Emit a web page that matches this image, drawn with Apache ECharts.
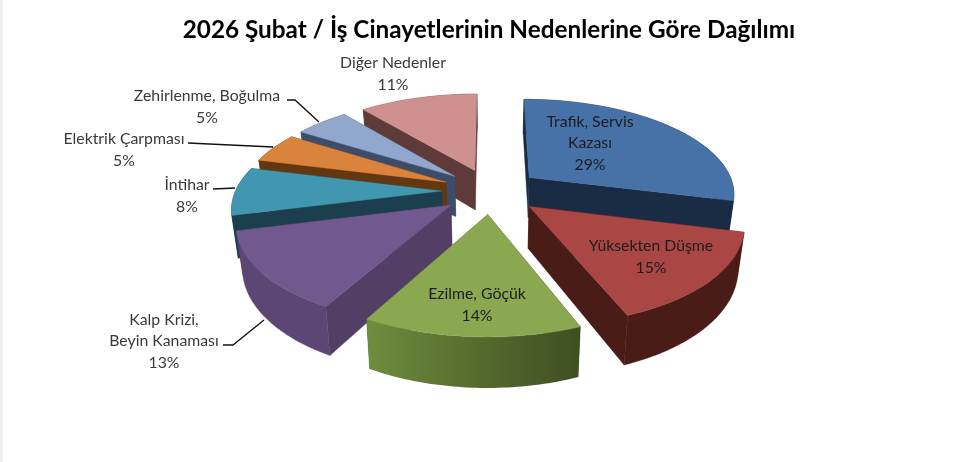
<!DOCTYPE html>
<html><head><meta charset="utf-8">
<style>html,body{margin:0;padding:0;background:#fff}#c{width:962px;height:462px}</style>
<script src="https://cdn.jsdelivr.net/npm/echarts@6/dist/echarts.min.js"></script>
</head><body><div id="c"></div>
<script>
const titleText = "2026 Şubat / İş Cinayetlerinin Nedenlerine Göre Dağılımı";
const categories = ["Trafik, Servis\nKazası","Yüksekten Düşme","Ezilme, Göçük","Kalp Krizi,\nBeyin Kanaması","İntihar","Elektrik Çarpması","Zehirlenme, Boğulma","Diğer Nedenler"];
const values = [29,15,14,13,8,5,5,11];

const topColors  = ["#4672a8","#aa4644","#8aa84f","#71588f","#4197af","#da833c","#91a7ce","#cf9190"];
const wallColors = ["#1a2c44","#4a1c18","#5a7232","#5c4674","#1b3f4d","#63370f","#3d4d68","#5e3a39"];
const radialColors=["#1a2c44","#4a1c18","#3f4f22","#533f66","#1b3f4d","#63370f","#3d4d68","#5e3a39"];
const paintOrder = [7,6,5,4,3,0,1,2];

// label centres and leader lines
const labelCentres = [[590,143],[651,257],[477,305],[164,341],[187,196],[124,150],[207,107],[393,74]];
const leaders = [null,null,null,[[223,345],[233,345],[264,320]],[[213,189],[235,188]],[[188,143],[273,147]],[[287,100],[295,100],[319,122]],null];

const cx=491, cy=191, bx=206, ay=94.5, persp=0.159, explode=0.24, depth=41, conv=0.975;
function project(u,v,low){
  const s=1/(1-persp*v);
  let x=cx+bx*u*s, y=cy+ay*v*s;
  if(low){ x=cx+(x-cx)*conv; y+=depth*s; }
  return [x,y];
}
const total=values.reduce((a,b)=>a+b,0);
const starts=[]; let acc=0;
values.forEach(v=>{starts.push(acc/total*Math.PI*2);acc+=v;});

function renderItem(params,api){
  const idx=api.value(0), val=api.value(1);
  const a0=starts[idx], a1=a0+val/total*Math.PI*2, m=(a0+a1)/2;
  const ox=explode*Math.sin(m), oy=-explode*Math.cos(m);
  const arc=[]; const n=48;
  for(let i=0;i<=n;i++){const t=a0+(a1-a0)*i/n;arc.push([ox+Math.sin(t),oy-Math.cos(t)]);}
  const P=(p,l)=>project(p[0],p[1],l);
  const apex=[ox,oy];
  const poly=(pts,fill)=>({type:'polygon',shape:{points:pts},style:{fill:fill,stroke:typeof fill==='string'?fill:'none',lineWidth:0.4}});
  const wallFill = idx===2 ? {type:'linear',x:0,y:0,x2:1,y2:0,colorStops:[{offset:0,color:'#6f8d3e'},{offset:0.4,color:'#5a7331'},{offset:1,color:'#3e4e22'}]} : wallColors[idx];
  const outer=arc.map(p=>P(p,false)).concat(arc.slice().reverse().map(p=>P(p,true)));
  const wallS=[P(apex,false),P(arc[0],false),P(arc[0],true),P(apex,true)];
  const wallE=[P(apex,false),P(arc[n],false),P(arc[n],true),P(apex,true)];
  const top=[P(apex,false)].concat(arc.map(p=>P(p,false)));
  return {type:'group',children:[
    poly(wallS,radialColors[idx]),poly(wallE,radialColors[idx]),poly(outer,wallFill),poly(top,topColors[idx])
  ]};
}

const graphics=[{type:'rect',left:0,top:0,shape:{width:2.5,height:462},style:{fill:'#ececec'},silent:true}];
categories.forEach((c,i)=>{
  const inside=i<3;
  graphics.push({type:'text',x:labelCentres[i][0],y:labelCentres[i][1],z:20,silent:true,style:{
    text:c+"\n"+values[i]+"%",align:'center',verticalAlign:'middle',fill:inside?'#1c1c22':'#3a3a3a',
    font:'15.8px Lato',lineHeight:21.5}});
  if(leaders[i]) graphics.push({type:'polyline',z:20,silent:true,shape:{points:leaders[i]},style:{stroke:'#111',lineWidth:1.3,fill:'none'}});
});

const chart=echarts.init(document.getElementById('c'),null,{renderer:'canvas'});
chart.setOption({
  animation:false,backgroundColor:'#fff',
  title:{text:titleText,left:484,top:13,textAlign:'center',textStyle:{fontFamily:'Lato',fontWeight:'bold',fontSize:24.3,color:'#000'}},
  graphic:graphics,
  series:[{type:'custom',coordinateSystem:'none',renderItem:renderItem,silent:true,
    data:paintOrder.map(i=>[i,values[i]])}]
});
</script></body></html>
